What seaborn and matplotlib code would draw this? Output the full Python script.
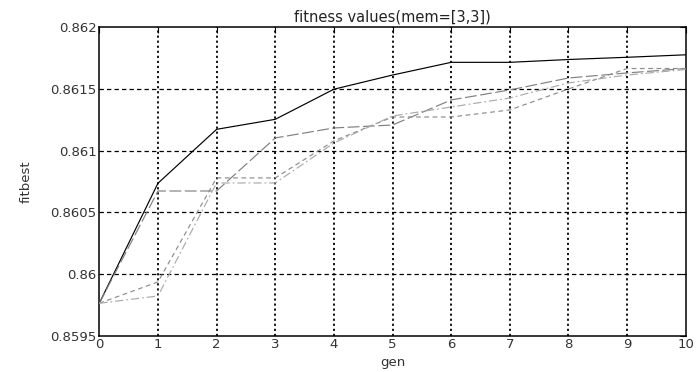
import numpy as np
import pandas as pd
import matplotlib
matplotlib.use("Agg")
import matplotlib.pyplot as plt
import seaborn as sns

# Best fitness per generation for four runs
gen = [0, 1, 2, 3, 4, 5, 6, 7, 8, 9, 10]
run1 = [0.859763, 0.860736, 0.861173, 0.861254, 0.861498, 0.861613,
        0.861716, 0.861716, 0.861739, 0.861757, 0.861777]
run2 = [0.859763, 0.860673, 0.860673, 0.861103, 0.861184, 0.861208,
        0.861411, 0.861492, 0.861589, 0.861630, 0.861666]
run3 = [0.859763, 0.859936, 0.860779, 0.860779, 0.861079, 0.861273,
        0.861273, 0.861330, 0.861500, 0.861666, 0.861666]
run4 = [0.859763, 0.859822, 0.860738, 0.860738, 0.861062, 0.861281,
        0.861354, 0.861427, 0.861549, 0.861613, 0.861658]

xticks = [0, 1, 2, 3, 4, 5, 6, 7, 8, 9, 10]
yticks = [0.8595, 0.86, 0.8605, 0.861, 0.8615, 0.862]
ytick_labels = ["0.8595", "0.86", "0.8605", "0.861", "0.8615", "0.862"]

runs = ["r1", "r2", "r3", "r4"]
df = pd.concat(
    [pd.DataFrame({"gen": gen, "fitbest": v, "run": r})
     for r, v in zip(runs, [run1, run2, run3, run4])],
    ignore_index=True,
)

sns.set_style("white")
plt.rcParams["font.family"] = ["DejaVu Sans"]

fig = plt.figure(figsize=(6.96, 3.72), dpi=100)
ax = fig.add_axes([0.1427, 0.0976, 0.9852 - 0.1427, 0.9266 - 0.0976])

palette = {"r1": "#000000", "r2": "#808080", "r3": "#8c8c8c", "r4": "#aaaaaa"}
dashes = {"r1": "", "r2": (10, 3), "r3": (4, 3), "r4": (7, 2.5, 1.5, 2.5)}
sns.lineplot(data=df, x="gen", y="fitbest", hue="run", style="run",
             palette=palette, dashes=dashes, linewidth=0.85, legend=False,
             ax=ax, zorder=3)

ax.set_xlim(0, 10)
ax.set_ylim(0.8595, 0.862)
ax.set_xticks(xticks)
ax.set_xticklabels([str(t) for t in xticks])
ax.set_yticks(yticks)
ax.set_yticklabels(ytick_labels)

# grid: dotted verticals, dashed horizontals
for xv in xticks[1:-1]:
    ax.axvline(xv, color="black", linestyle=(0, (1.2, 1.6)), linewidth=1.3, zorder=1)
for yv in yticks[1:-1]:
    ax.axhline(yv, color="black", linestyle=(0, (3.5, 2.5)), linewidth=0.9, zorder=1)

for s in ax.spines.values():
    s.set_color("black")
    s.set_linewidth(1.1)
ax.tick_params(direction="in", length=4, width=0.8, colors="black",
               labelsize=9.5, top=True, right=True, pad=2)
for lab in ax.get_xticklabels() + ax.get_yticklabels():
    lab.set_color("#333333")

ax.set_title("fitness values(mem=[3,3])", fontsize=10.5, pad=4, color="#222222")
ax.set_xlabel("gen", fontsize=9.5, labelpad=3, color="#333333")
ax.set_ylabel("fitbest", fontsize=9.5, labelpad=13, color="#333333")

fig.savefig("out.png", dpi=100, facecolor="white")
